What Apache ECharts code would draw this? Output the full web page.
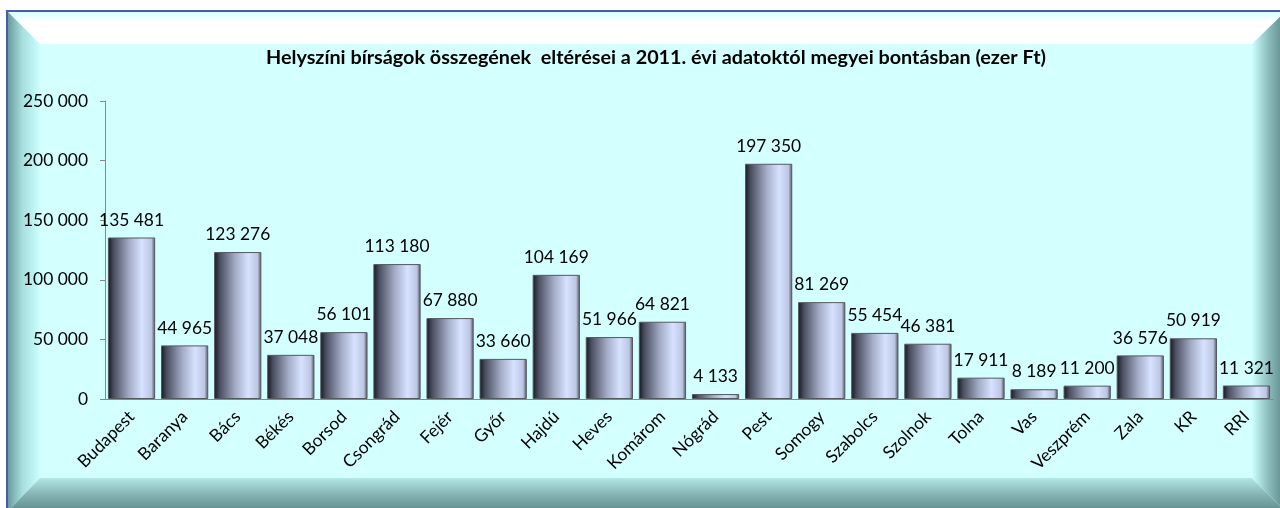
<!DOCTYPE html>
<html>
<head>
<meta charset="utf-8">
<script src="https://cdn.jsdelivr.net/npm/echarts@6/dist/echarts.min.js"></script>
<style>
  html, body { margin: 0; padding: 0; background: #fff; }
  #chart { width: 1280px; height: 508px; }
</style>
</head>
<body>
<div id="chart"></div>
<script>
// megyék
var categories = ['Budapest', 'Baranya', 'Bács', 'Békés', 'Borsod', 'Csongrád', 'Fejér', 'Győr',
  'Hajdú', 'Heves', 'Komárom', 'Nógrád', 'Pest', 'Somogy', 'Szabolcs', 'Szolnok', 'Tolna',
  'Vas', 'Veszprém', 'Zala', 'KR', 'RRI'];
// eltérések (ezer Ft)
var values = [135481, 44965, 123276, 37048, 56101, 113180, 67880, 33660, 104169, 51966, 64821,
  4133, 197350, 81269, 55454, 46381, 17911, 8189, 11200, 36576, 50919, 11321];
var yTicks = [0, 50000, 100000, 150000, 200000, 250000];

function fmt(v) {
  return String(v).replace(/\B(?=(\d{3})+(?!\d))/g, ' ');
}

var myChart = echarts.init(document.getElementById('chart'));

// keret (bevel) a háttérhez
var L = 7, T = 11, R = 1285, B = 511, w = 33;
var frame = [
  { type: 'rect', shape: { x: L, y: T, width: R - L, height: B - T },
    style: { fill: '#d4ffff', stroke: '#4b59a8', lineWidth: 2 }, z: -10 },
  { type: 'polygon', shape: { points: [[L + 1, T + 1], [R, T + 1], [R - w, T + w], [L + w, T + w]] },
    style: { fill: new echarts.graphic.LinearGradient(0, 0, 0, 1, [
      { offset: 0, color: '#d8ffff' }, { offset: 0.3, color: '#ffffff' }, { offset: 1, color: '#ffffff' }]) }, z: -9 },
  { type: 'polygon', shape: { points: [[L + 1, T + 1], [L + w, T + w], [L + w, B - w], [L + 1, B]] },
    style: { fill: new echarts.graphic.LinearGradient(0, 0, 1, 0, [
      { offset: 0, color: '#6a9c9e' }, { offset: 0.45, color: '#a8dede' }, { offset: 1, color: '#ccffff' }]) }, z: -9 },
  { type: 'polygon', shape: { points: [[L + 1, B], [L + w, B - w], [R - w, B - w], [R, B]] },
    style: { fill: new echarts.graphic.LinearGradient(0, 0, 0, 1, [
      { offset: 0, color: '#b4e6e6' }, { offset: 0.5, color: '#86b4b4' }, { offset: 1, color: '#5f8c8c' }]) }, z: -9 },
  { type: 'polygon', shape: { points: [[R, T + 1], [R, B], [R - w, B - w], [R - w, T + w]] },
    style: { fill: new echarts.graphic.LinearGradient(0, 0, 1, 0, [
      { offset: 0, color: '#ccffff' }, { offset: 0.5, color: '#8cbcbc' }, { offset: 1, color: '#5c8888' }]) }, z: -9 }
];

myChart.setOption({
  animation: false,
  textStyle: { fontFamily: 'Lato', color: '#000' },
  graphic: frame,
  title: {
    text: 'Helyszíni bírságok összegének  eltérései a 2011. évi adatoktól megyei bontásban (ezer Ft)',
    left: 651,
    top: 43,
    textAlign: 'center',
    textStyle: { fontFamily: 'Lato', fontWeight: 'bold', fontSize: 19.8, color: '#000' }
  },
  grid: { left: 105, right: 7, top: 101, bottom: 109 },
  xAxis: {
    type: 'category',
    data: categories,
    axisLine: { lineStyle: { color: '#888', width: 1 } },
    axisTick: { alignWithLabel: false, length: 6, lineStyle: { color: '#888' } },
    axisLabel: { rotate: 45, fontSize: 17.4, color: '#000', margin: 15, interval: 0 }
  },
  yAxis: {
    type: 'value',
    min: 0,
    max: 250000,
    interval: 50000,
    axisLine: { show: true, lineStyle: { color: '#888' } },
    axisTick: { show: true, length: 5, lineStyle: { color: '#888' } },
    splitLine: { show: false },
    axisLabel: { fontSize: 17.4, color: '#000', margin: 17, formatter: fmt }
  },
  series: [{
    type: 'bar',
    data: values,
    barCategoryGap: '11%',
    itemStyle: {
      color: new echarts.graphic.LinearGradient(0, 0, 1, 0, [
        { offset: 0, color: '#15161e' },
        { offset: 0.12, color: '#4a4e60' },
        { offset: 0.45, color: '#a3acc6' },
        { offset: 0.72, color: '#d6e2ff' },
        { offset: 0.92, color: '#bcc6e2' },
        { offset: 1, color: '#4c4f5a' }
      ]),
      borderColor: '#55585f',
      borderWidth: 1
    },
    label: {
      show: true,
      position: 'top',
      distance: 9,
      fontSize: 17.4,
      color: '#000',
      formatter: function (p) { return fmt(p.value); }
    }
  }]
});
</script>
</body>
</html>
